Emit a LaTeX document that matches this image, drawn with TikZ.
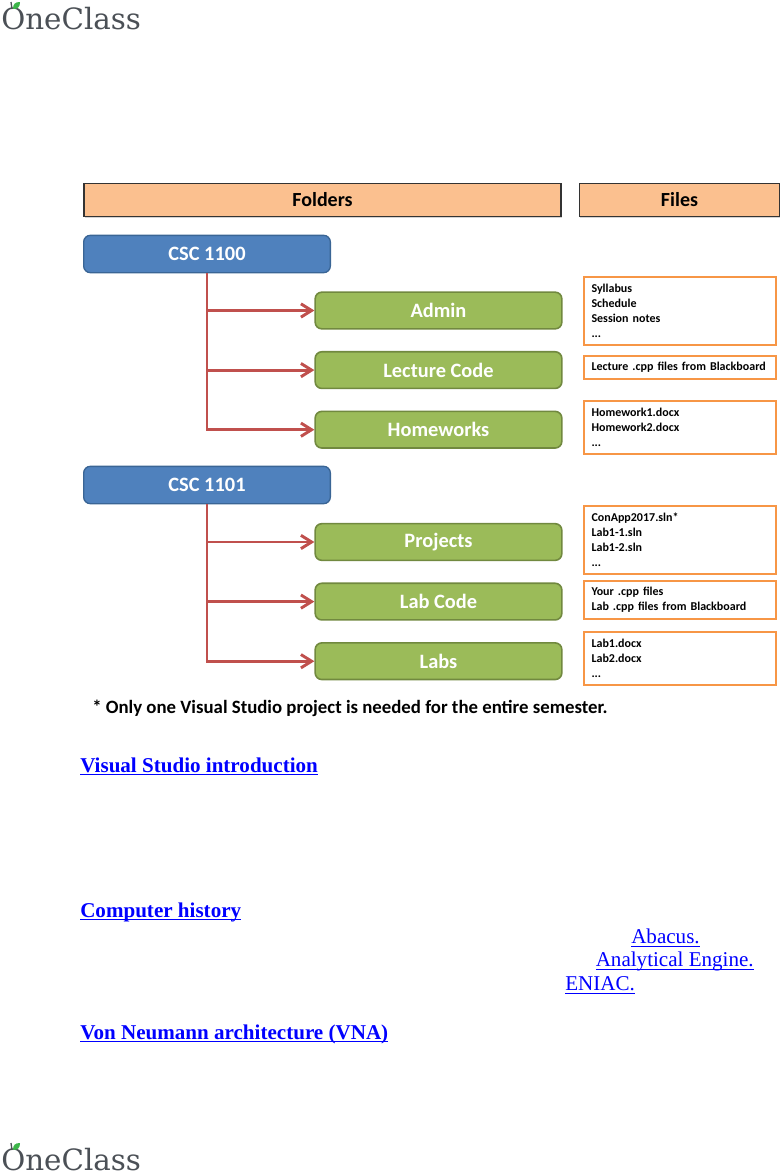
\documentclass[tikz,border=0pt]{standalone}
\usepackage{fontspec}
\setmainfont{Carlito}
\newfontfamily\linkfont{Liberation Serif}
\newfontfamily\logofont{DejaVu Serif}
\usetikzlibrary{positioning,arrows.meta,shadows}
\definecolor{headfill}{HTML}{FBC08F}
\definecolor{blueedge}{HTML}{3A6595}
\definecolor{bluefill}{HTML}{4F81BD}
\definecolor{greenedge}{HTML}{71893F}
\definecolor{greenfill}{HTML}{9BBB59}
\definecolor{arrowred}{HTML}{C0504D}
\definecolor{fileedge}{HTML}{F79646}
\definecolor{logogrey}{HTML}{4B5056}
\definecolor{logogreen}{HTML}{3DB54A}
\newlength{\linkwd}
\newcommand{\linktext}[2][0.7pt]{\settowidth{\linkwd}{#2}\rlap{\rule[-2.6pt]{\linkwd}{#1}}#2}

\begin{document}
\begin{tikzpicture}[x=0.75pt,y=-0.75pt,
    headnode/.style={rectangle, draw=black!80, fill=headfill, line width=1.1pt, minimum height=25pt, font=\bfseries\fontsize{15}{18}\selectfont, drop shadow={shadow xshift=0.6pt, shadow yshift=-1pt, opacity=0.35}},
    coursenode/.style={rectangle, rounded corners=5pt, draw=blueedge, fill=bluefill, line width=1pt, text=white, minimum width=185pt, minimum height=28pt, font=\bfseries\fontsize{15.3}{18}\selectfont},
    foldernode/.style={rectangle, rounded corners=5pt, draw=greenedge, fill=greenfill, line width=1.2pt, text=white, minimum width=185pt, minimum height=27.5pt, font=\bfseries\fontsize{15.3}{18}\selectfont},
    filenode/.style={rectangle, draw=fileedge, fill=white, line width=1.5pt, minimum width=144pt, text width=132pt, inner xsep=6pt, inner ysep=0pt, align=left, font=\bfseries\fontsize{9}{11.3}\selectfont},
    linknode/.style={anchor=base west, inner sep=0pt, text=blue, font=\linkfont\fontsize{15.8}{18}\selectfont},
    headlink/.style={linknode, font=\linkfont\bfseries\fontsize{15.8}{18}\selectfont},
    branch/.style={draw=arrowred, line width=2.2pt, -{Straight Barb[length=8pt, width=10pt, line width=2.2pt]}},
    logotext/.style={anchor=base west, inner sep=0pt, text=logogrey, font=\logofont\fontsize{22}{24}\selectfont},
    ]
    \useasboundingbox (0,0) rectangle (784,1174);
    % logos
    \node[logotext] (logotop) at (1,29) {OneClass};
    \node[logotext] (logobot) at (1,1170) {OneClass};
    \draw[logogrey, line width=1pt] (12,9) -- (11,2);
    \draw[logogrey, line width=1pt] (12,1150) -- (11,1143);
    \fill[logogreen] (13,9) .. controls (13,4) and (15,2) .. (20,2) .. controls (20,7) and (18,9) .. (13,9);
    \fill[logogreen] (13,1150) .. controls (13,1145) and (15,1143) .. (20,1143) .. controls (20,1148) and (18,1150) .. (13,1150);
    % headers
    \node[headnode, minimum width=358pt] (folders) at (322.5,200) {Folders};
    \node[headnode, minimum width=150pt] (files) at (679.5,200) {Files};
    % first course
    \node[coursenode] (csca) at (207,254) {CSC 1100};
    \node[foldernode] (admin) at (438.5,310.5) {Admin};
    \node[foldernode] (lecture) [below=16pt of admin] {Lecture Code};
    \node[foldernode] (homeworks) [below=16pt of lecture] {Homeworks};
    % second course
    \node[coursenode] (cscb) at (207,485) {CSC 1101};
    \node[foldernode] (projects) at (438.5,542) {Projects};
    \node[foldernode] (labcode) [below=16pt of projects] {Lab Code};
    \node[foldernode] (labs) [below=16pt of labcode] {Labs};
    % file boxes
    \node[filenode, minimum height=51pt] (filesa) at (679.5,311) {Syllabus\\Schedule\\Session notes\\...};
    \node[filenode, minimum height=17pt] (filesb) at (679.5,367.5) {Lecture .cpp files from Blackboard};
    \node[filenode, minimum height=40pt] (filesc) at (679.5,427.5) {Homework1.docx\\Homework2.docx\\...};
    \node[filenode, minimum height=51pt] (filesd) at (679.5,539.5) {ConApp2017.sln*\\Lab1-1.sln\\Lab1-2.sln\\...};
    \node[filenode, minimum height=28pt] (filese) at (679.5,600) {Your .cpp files\\Lab .cpp files from Blackboard};
    \node[filenode, minimum height=40pt] (filesf) at (679.5,658.5) {Lab1.docx\\Lab2.docx\\...};
    % lines
    \draw[branch] (csca.south) |- (admin.west);
    \draw[branch] (csca.south) |- (lecture.west);
    \draw[branch] (csca.south) |- (homeworks.west);
    \draw[branch] (cscb.south) |- (projects.west);
    \draw[branch] (cscb.south) |- (labcode.west);
    \draw[branch] (cscb.south) |- (labs.west);
    % note and links
    \node[anchor=base west, inner sep=0pt, font=\bfseries\fontsize{14.1}{16}\selectfont] (note) at (92,713) {* Only one Visual Studio project is needed for the entire semester.};
    \node[headlink] (vsintro) at (80,772) {\linktext[1pt]{Visual Studio introduction}};
    \node[headlink] (history) at (80,917) {\linktext[1pt]{Computer history}};
    \node[linknode] (abacus) at (631,943) {\linktext{Abacus.}};
    \node[linknode] (engine) at (595.5,966.5) {\linktext{Analytical Engine.}};
    \node[linknode] (eniac) at (565,990) {\linktext{ENIAC.}};
    \node[headlink] (vna) at (80,1039) {\linktext[1pt]{Von Neumann architecture (VNA)}};
\end{tikzpicture}
\end{document}
